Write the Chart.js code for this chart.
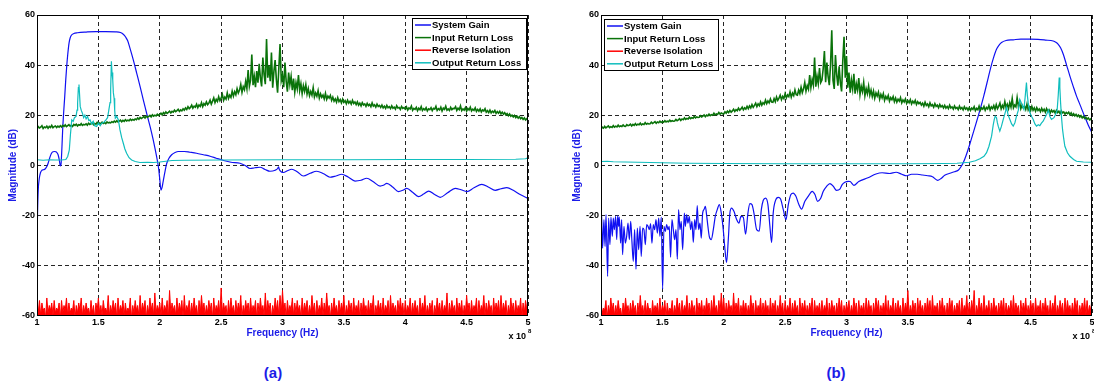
<!DOCTYPE html>
<html>
<head>
<meta charset="utf-8">
<title>Amplifier sweep</title>
<script src="https://cdn.jsdelivr.net/npm/chart.js@4.4.1/dist/chart.umd.min.js"></script>
<style>
  html, body { margin: 0; padding: 0; background: #fff; overflow: hidden; }
  body { width: 1094px; height: 383px; position: relative; }
  canvas { position: absolute; top: 0; }
  #plotA { left: 0; }
  #plotB { left: 564px; }
  .caption { position: absolute; top: 364px; width: 60px; text-align: center; line-height: 18px;
             font: bold 15px "Liberation Sans", Arial, sans-serif; color: #1c1ce8; }
</style>
</head>
<body>
<canvas id="plotA" width="547" height="350"></canvas>
<canvas id="plotB" width="547" height="350"></canvas>
<div class="caption" style="left:243px">(a)</div>
<div class="caption" style="left:806px">(b)</div>
<script>
'use strict';

// Frequency is in units of 1e8 Hz (see the "x 10^8" note under the axis)
const xTickValues = [1, 1.5, 2, 2.5, 3, 3.5, 4, 4.5, 5];
const xTickLabels = ['1', '1.5', '2', '2.5', '3', '3.5', '4', '4.5', '5'];
const yTickValues = [-60, -40, -20, 0, 20, 40, 60];
const yTickLabels = ['-60', '-40', '-20', '0', '20', '40', '60'];
const traceNames = ['System Gain', 'Input Return Loss', 'Reverse Isolation', 'Output Return Loss'];
const traceColors = ['#1010f2', '#0a730a', '#ff0000', '#10bebe'];

// ---- plot (a) -------------------------------------------------------
const gainFreqA = [1.000, 1.004, 1.010, 1.018, 1.028, 1.040, 1.052, 1.066, 1.080, 1.092,
  1.104, 1.116, 1.130, 1.145, 1.160, 1.172, 1.182, 1.190, 1.196, 1.203,
  1.209, 1.217, 1.226, 1.234, 1.242, 1.251, 1.261, 1.270, 1.280, 1.300,
  1.330, 1.400, 1.480, 1.560, 1.640, 1.680, 1.705, 1.722, 1.738, 1.756,
  1.785, 1.812, 1.840, 1.866, 1.894, 1.921, 1.945, 1.962, 1.978, 1.990,
  2.000, 2.010, 2.019, 2.030, 2.043, 2.056, 2.075, 2.097, 2.125, 2.151,
  2.200, 2.246, 2.300, 2.355, 2.410, 2.460, 2.520, 2.580, 2.654, 2.700,
  2.735, 2.775, 2.817, 2.858, 2.898, 2.940, 2.962, 2.968, 2.975, 3.007,
  3.040, 3.075, 3.120, 3.170, 3.225, 3.279, 3.335, 3.387, 3.435, 3.482,
  3.535, 3.591, 3.640, 3.686, 3.740, 3.795, 3.822, 3.850, 3.900, 3.945,
  3.980, 4.013, 4.060, 4.108, 4.150, 4.190, 4.240, 4.285, 4.345, 4.407,
  4.455, 4.502, 4.560, 4.624, 4.680, 4.733, 4.780, 4.828, 4.880, 4.940, 5.000];
const gainA = [-32, -20, -10, -5.5, -3.0, -2.0, -1.8, -1.5, -0.5, 1.0,
  3.0, 4.6, 5.4, 5.5, 5.2, 4.2, 2.0, -0.3, 0.5, 7.0,
  14.1, 21.0, 27.5, 34.0, 39.5, 44.5, 48.8, 50.8, 51.9, 52.6,
  52.9, 53.2, 53.4, 53.4, 53.3, 53.0, 52.2, 51.2, 49.8, 47.0,
  42.0, 36.8, 31.4, 26.1, 20.6, 15.5, 10.5, 6.5, 2.5, -1.0,
  -5.5, -9.9, -8.8, -5.8, -2.4, 0.6, 2.8, 4.2, 5.1, 5.5,
  5.5, 5.2, 4.8, 4.2, 3.6, 2.8, 1.9, 1.2, 0.8, -0.2,
  -1.3, -1.0, -0.8, -1.7, -2.4, -2.0, -1.2, -0.6, -1.8, -2.9,
  -2.2, -1.6, -2.6, -4.3, -3.2, -2.4, -3.4, -4.8, -4.3, -3.6,
  -4.7, -6.3, -6.0, -5.2, -6.6, -8.3, -8.0, -7.2, -8.8, -10.5,
  -10.0, -9.2, -10.8, -12.5, -11.5, -10.3, -11.7, -12.8, -11.0, -9.2,
  -9.8, -10.5, -9.0, -7.6, -8.8, -10.0, -9.4, -8.9, -10.0, -11.8, -13.2];

const outRlFreqA = [1.000, 1.050, 1.100, 1.150, 1.200, 1.235, 1.250, 1.263, 1.272, 1.283,
  1.295, 1.305, 1.318, 1.326, 1.331, 1.337, 1.342, 1.347, 1.352, 1.360,
  1.370, 1.380, 1.390, 1.400, 1.412, 1.422, 1.432, 1.445, 1.458, 1.470,
  1.486, 1.500, 1.515, 1.527, 1.545, 1.560, 1.575, 1.585, 1.595, 1.600,
  1.606, 1.611, 1.617, 1.622, 1.628, 1.633, 1.638, 1.650, 1.663, 1.676,
  1.690, 1.703, 1.716, 1.730, 1.750, 1.771, 1.800, 1.839, 1.900, 1.950,
  2.000, 2.050, 2.100, 2.200, 2.500, 3.000, 3.500, 4.000, 4.500, 4.900, 4.980, 5.000];
const outRlA = [2.2, 2.0, 2.2, 2.1, 2.1, 2.3, 3.5, 6.0, 12.0, 18.1,
  17.5, 19.0, 19.5, 22.0, 25.0, 31.0, 32.2, 28.0, 23.5, 22.0,
  20.8, 19.0, 20.0, 18.5, 19.5, 17.8, 18.1, 16.5, 17.5, 15.8,
  15.5, 16.8, 15.8, 16.8, 17.2, 18.0, 19.0, 22.0, 25.0, 30.0,
  41.5, 37.0, 34.1, 29.0, 26.8, 22.0, 18.8, 19.5, 18.1, 14.1,
  11.0, 8.8, 6.5, 4.8, 3.0, 2.1, 1.5, 1.1, 1.2, 1.1,
  1.3, 1.6, 1.9, 2.0, 2.1, 2.2, 2.2, 2.3, 2.3, 2.4, 2.6, 3.0];

// input return loss, one sample every 0.01 from 1 to 5
const inRlA = [
  14.5, 15.4, 14.9, 15.2, 15.8, 14.7, 15.3, 15.0, 15.6, 14.8, 15.5, 15.1, 15.9, 15.0, 15.4, 15.7, 15.1, 15.6, 15.2, 15.8,
  15.3, 15.9, 15.5, 16.1, 15.4, 15.8, 16.2, 15.6, 16.0, 15.5, 16.3, 15.9, 16.4, 15.7, 16.2, 16.0, 16.6, 15.9, 16.3, 16.1,
  16.5, 16.0, 16.8, 16.3, 16.6, 17.0, 16.2, 16.7, 16.4, 17.1, 16.5, 16.9, 16.6, 17.2, 16.7, 17.0, 16.6, 17.3, 16.9, 17.1,
  16.9, 17.4, 17.1, 17.6, 17.2, 17.8, 17.3, 17.6, 18.0, 17.4, 17.9, 17.5, 18.2, 17.7, 18.0, 17.8, 18.4, 17.9, 18.3, 18.0,
  18.5, 18.2, 18.9, 18.4, 19.1, 18.7, 19.0, 19.4, 18.9, 19.6, 19.2, 19.5, 19.9, 19.3, 20.1, 19.6, 20.0, 19.7, 20.4, 19.9,
  20.3, 20.8, 20.1, 21.0, 20.5, 21.3, 20.7, 21.1, 21.6, 20.9, 21.5, 21.2, 22.0, 21.4, 21.8, 22.3, 21.5, 22.1, 21.7, 22.5,
  22.0, 22.9, 22.3, 23.4, 22.6, 23.1, 24.0, 22.8, 23.6, 23.2, 24.4, 23.0, 24.1, 23.5, 25.0, 23.4, 24.6, 24.0, 25.3, 24.2,
  24.8, 26.0, 24.4, 25.6, 26.9, 25.0, 26.3, 25.5, 27.4, 25.8, 26.8, 28.3, 25.9, 27.2, 26.4, 28.9, 26.7, 28.0, 27.1, 29.6,
  27.6, 29.4, 28.2, 30.6, 28.8, 30.0, 32.3, 29.1, 31.4, 30.2, 33.5, 30.6, 38.0, 31.5, 34.0, 44.2, 32.0, 35.5, 31.2, 37.6,
  33.0, 40.5, 34.8, 31.5, 43.0, 36.2, 32.4, 50.4, 35.0, 39.8, 33.6, 45.0, 31.0, 37.5, 42.0, 34.2, 29.0, 38.6, 48.4, 33.8,
  36.0, 31.2, 41.0, 33.5, 29.4, 37.0, 32.2, 35.5, 30.0, 34.6, 29.2, 33.0, 30.5, 36.0, 29.8, 32.5, 28.6, 31.8, 29.5, 32.2,
  28.4, 30.6, 27.8, 29.5, 28.0, 31.0, 27.3, 28.9, 27.6, 29.8, 26.8, 28.5, 27.1, 28.0, 26.5, 28.7, 26.3, 27.6, 26.8, 27.9,
  25.9, 27.2, 25.6, 26.5, 25.2, 27.0, 25.4, 26.2, 24.9, 26.4, 25.1, 25.8, 24.6, 26.0, 24.8, 25.5, 24.4, 25.9, 24.7, 25.3,
  24.2, 25.3, 24.0, 24.8, 23.7, 25.0, 24.1, 24.5, 23.5, 24.7, 23.8, 24.3, 23.4, 24.9, 23.6, 24.1, 23.2, 24.4, 23.5, 23.9,
  23.1, 24.0, 22.9, 23.6, 22.7, 23.9, 23.0, 23.4, 22.6, 23.7, 22.8, 23.2, 22.4, 23.8, 22.9, 23.1, 22.3, 23.5, 22.7, 23.0,
  22.4, 23.3, 22.0, 22.9, 22.5, 23.6, 21.9, 22.7, 22.3, 23.1, 21.8, 22.8, 22.2, 23.4, 21.9, 22.6, 22.1, 23.0, 21.7, 22.5,
  22.2, 23.0, 21.8, 22.7, 22.4, 23.5, 21.9, 22.6, 22.1, 23.2, 21.7, 22.8, 22.3, 23.6, 22.0, 22.5, 21.9, 23.1, 22.2, 22.7,
  22.6, 23.4, 21.9, 22.8, 22.2, 23.7, 21.8, 22.5, 22.0, 23.0, 21.6, 22.7, 22.1, 23.2, 21.7, 22.4, 21.9, 22.9, 21.5, 22.3,
  21.6, 22.5, 21.3, 22.1, 21.7, 22.6, 21.2, 21.8, 21.0, 22.0, 20.9, 21.6, 21.1, 21.9, 20.7, 21.4, 20.8, 21.5, 20.5, 21.2,
  20.4, 21.0, 20.1, 20.6, 19.8, 20.5, 19.6, 20.0, 19.3, 19.9, 19.0, 19.6, 18.8, 19.4, 18.6, 19.1, 18.3, 18.9, 18.1, 18.6,
  17.9];

// reverse isolation, one sample every 0.01 from 1 to 5
const isoA = [
  -56, -59, -54, -60, -55, -58, -57, -61, -53, -59, -56, -58, -55, -60, -54, -59, -57, -58, -55, -61,
  -54, -59, -56, -58, -53, -60, -55, -59, -57, -58, -54, -61, -56, -59, -55, -58, -53, -60, -56, -59,
  -55, -58, -57, -60, -54, -59, -56, -61, -55, -58, -53, -59, -56, -60, -54, -58, -57, -59, -52, -60,
  -56, -59, -54, -58, -55, -61, -53, -59, -56, -58, -54, -60, -55, -59, -57, -58, -53, -61, -56, -59,
  -54, -58, -56, -60, -52, -59, -55, -58, -54, -61, -56, -59, -53, -58, -55, -60, -51, -59, -56, -58,
  -55, -60, -53, -59, -56, -58, -54, -61, -50, -59, -55, -58, -56, -60, -53, -59, -55, -58, -54, -61,
  -52, -59, -56, -58, -54, -60, -55, -59, -53, -58, -56, -61, -54, -59, -52, -58, -55, -60, -56, -59,
  -54, -58, -55, -61, -53, -59, -56, -58, -54, -60, -49, -59, -55, -58, -56, -61, -54, -59, -53, -58,
  -56, -60, -54, -59, -55, -58, -52, -61, -56, -59, -54, -58, -55, -60, -53, -59, -56, -58, -54, -61,
  -55, -59, -53, -58, -56, -60, -51, -59, -54, -58, -55, -61, -56, -59, -53, -58, -54, -60, -52, -59,
  -50, -58, -55, -61, -54, -59, -56, -58, -53, -60, -55, -59, -54, -58, -56, -61, -53, -59, -55, -58,
  -54, -60, -56, -59, -52, -58, -55, -61, -54, -59, -56, -58, -53, -60, -55, -59, -51, -58, -56, -61,
  -55, -59, -53, -58, -56, -60, -54, -59, -55, -58, -52, -61, -56, -59, -54, -58, -55, -60, -53, -59,
  -56, -58, -54, -61, -55, -59, -53, -58, -56, -60, -54, -59, -55, -58, -52, -61, -56, -59, -54, -58,
  -55, -60, -53, -59, -56, -58, -54, -61, -52, -59, -55, -58, -56, -60, -54, -59, -53, -58, -55, -61,
  -54, -59, -56, -58, -53, -60, -55, -59, -54, -58, -56, -61, -53, -59, -55, -58, -52, -60, -56, -59,
  -55, -58, -54, -61, -56, -59, -53, -58, -55, -60, -54, -59, -56, -58, -51, -61, -55, -59, -54, -58,
  -56, -60, -53, -59, -55, -58, -54, -61, -56, -59, -52, -58, -55, -60, -54, -59, -56, -58, -53, -61,
  -54, -59, -56, -58, -52, -60, -55, -59, -54, -58, -56, -61, -53, -59, -55, -58, -54, -60, -52, -59,
  -55, -58, -54, -61, -56, -59, -53, -58, -55, -60, -54, -59, -56, -58, -53, -61, -55, -59, -54, -58,
  -52];

// ---- plot (b) -------------------------------------------------------
const gainFreqB = [1.005, 1.013, 1.024, 1.033, 1.041, 1.054, 1.062, 1.073, 1.081, 1.092,
  1.100, 1.109, 1.119, 1.128, 1.136, 1.144, 1.149, 1.160, 1.168, 1.176,
  1.187, 1.198, 1.209, 1.220, 1.231, 1.242, 1.252, 1.263, 1.274, 1.285,
  1.296, 1.307, 1.318, 1.328, 1.339, 1.350, 1.361, 1.372, 1.383, 1.394,
  1.404, 1.415, 1.426, 1.437, 1.448, 1.459, 1.470, 1.480, 1.491, 1.502,
  1.513, 1.524, 1.535, 1.546, 1.556, 1.567, 1.578, 1.589, 1.600, 1.611,
  1.622, 1.632, 1.643, 1.654, 1.665, 1.679, 1.687, 1.698, 1.708, 1.719,
  1.730, 1.741, 1.752, 1.763, 1.774, 1.784, 1.795, 1.806, 1.817, 1.828,
  1.839, 1.850, 1.860, 1.871, 1.882, 1.898, 1.915, 1.931, 1.947, 1.964,
  1.980, 1.996, 2.010, 2.023, 2.037, 2.050, 2.064, 2.083, 2.105, 2.124,
  2.140, 2.159, 2.178, 2.197, 2.213, 2.230, 2.246, 2.268, 2.289, 2.306,
  2.322, 2.341, 2.360, 2.376, 2.390, 2.403, 2.422, 2.444, 2.463, 2.485,
  2.507, 2.526, 2.547, 2.566, 2.588, 2.612, 2.634, 2.661, 2.688, 2.721,
  2.743, 2.764, 2.789, 2.811, 2.838, 2.865, 2.892, 2.919, 2.946, 2.965,
  2.987, 3.014, 3.030, 3.060, 3.100, 3.175, 3.240, 3.290, 3.350, 3.404,
  3.450, 3.490, 3.530, 3.576, 3.620, 3.662, 3.700, 3.742, 3.770, 3.800,
  3.842, 3.880, 3.910, 3.930, 3.951, 3.975, 4.005, 4.045, 4.087, 4.120,
  4.155, 4.175, 4.195, 4.222, 4.243, 4.263, 4.300, 4.358, 4.420, 4.494,
  4.560, 4.620, 4.684, 4.705, 4.725, 4.745, 4.766, 4.793, 4.820, 4.847,
  4.874, 4.901, 4.940, 4.970, 5.000];
const gainB = [-20.4, -33.1, -21.7, -32.4, -19.7, -44.4, -21.1, -31.7, -20.7, -28.4,
  -21.1, -25.7, -20.4, -29.7, -20.1, -24.4, -20.7, -31.1, -21.7, -35.7,
  -24.4, -31.1, -28.4, -23.1, -29.7, -22.4, -30.4, -38.4, -25.7, -41.5,
  -25.1, -33.7, -24.4, -36.4, -25.1, -25.7, -31.7, -23.7, -24.4, -25.7,
  -23.3, -31.1, -23.7, -25.7, -21.7, -27.1, -21.1, -28.4, -20.7, -49.5,
  -24.4, -26.4, -23.7, -25.7, -24.4, -36.7, -21.7, -25.7, -29.7, -25.7,
  -37.5, -17.7, -25.7, -22.4, -33.7, -19.1, -24.4, -19.7, -23.1, -20.4,
  -25.7, -22.4, -30.8, -21.7, -25.7, -16.1, -25.7, -23.1, -29.1, -19.1,
  -17.7, -16.4, -19.7, -24.4, -28.4, -29.7, -25.7, -20.4, -17.7, -15.7,
  -19.1, -25.7, -33.7, -38.8, -29.7, -19.1, -17.1, -18.4, -21.7, -23.1,
  -20.4, -20.7, -27.5, -19.1, -15.3, -15.7, -19.1, -25.7, -26.3, -17.7,
  -14.0, -13.1, -15.7, -24.4, -30.8, -19.1, -14.0, -12.8, -13.5, -17.7,
  -21.7, -15.7, -11.7, -11.1, -12.4, -15.7, -17.5, -14.4, -12.4, -10.4,
  -11.7, -14.4, -13.3, -10.4, -8.4, -7.3, -8.4, -10.0, -9.5, -7.7,
  -6.8, -6.4, -6.5, -8.0, -6.5, -5.0, -3.5, -3.0, -3.3, -2.8,
  -3.6, -4.2, -3.6, -3.6, -3.9, -4.2, -4.6, -6.0, -5.3, -4.0,
  -3.2, -2.6, -2.0, -0.8, 1.0, 4.0, 8.5, 15.0, 22.0, 28.0,
  35.0, 39.0, 42.5, 46.3, 48.0, 49.0, 49.8, 50.1, 50.4, 50.4,
  50.3, 50.0, 49.6, 49.1, 48.3, 46.8, 44.3, 40.0, 35.6, 31.5,
  27.6, 24.3, 19.5, 16.0, 13.0];

const outRlFreqB = [1.000, 1.050, 1.100, 1.200, 1.300, 1.400, 1.500, 1.700, 2.000, 2.500,
  3.000, 3.500, 3.800, 3.900, 4.000, 4.050, 4.087, 4.120, 4.141, 4.160,
  4.182, 4.195, 4.204, 4.212, 4.222, 4.229, 4.236, 4.249, 4.262, 4.277,
  4.290, 4.304, 4.317, 4.331, 4.345, 4.358, 4.372, 4.385, 4.400, 4.412,
  4.428, 4.445, 4.455, 4.466, 4.473, 4.480, 4.494, 4.508, 4.521, 4.535,
  4.548, 4.562, 4.575, 4.588, 4.602, 4.616, 4.630, 4.645, 4.657, 4.670,
  4.690, 4.705, 4.716, 4.725, 4.733, 4.738, 4.744, 4.752, 4.760, 4.770,
  4.779, 4.800, 4.820, 4.850, 4.874, 4.930, 5.000];
const outRlB = [1.5, 1.6, 1.4, 1.3, 1.2, 1.1, 1.0, 0.8, 0.7, 0.6,
  0.6, 0.6, 0.7, 0.8, 1.2, 1.8, 2.6, 3.6, 5.0, 7.5,
  11.6, 16.0, 18.3, 19.6, 19.0, 17.0, 15.6, 13.6, 15.5, 18.3,
  20.5, 23.0, 20.0, 18.3, 16.5, 15.6, 17.0, 19.6, 22.0, 26.3,
  24.5, 22.3, 27.0, 33.0, 28.0, 25.0, 21.0, 19.5, 18.3, 16.5,
  15.6, 16.2, 15.8, 16.8, 17.6, 19.0, 20.3, 22.0, 19.5, 18.3,
  19.0, 20.5, 22.0, 28.0, 35.0, 31.0, 25.0, 19.0, 14.3, 10.5,
  7.6, 5.0, 3.6, 2.3, 1.6, 1.3, 1.2];

const inRlB = [
  14.4, 15.2, 14.8, 15.5, 14.9, 15.3, 15.7, 15.0, 15.4, 15.1, 15.8, 15.2, 15.6, 15.3, 16.0, 15.4, 15.7, 15.5, 16.1, 15.6,
  15.5, 16.2, 15.8, 16.0, 16.4, 15.7, 16.3, 15.9, 16.6, 16.0, 16.4, 16.2, 16.8, 16.1, 16.5, 16.3, 17.0, 16.4, 16.7, 16.5,
  16.6, 17.2, 16.7, 17.0, 17.4, 16.8, 17.3, 17.0, 17.6, 17.1, 17.4, 17.2, 17.8, 17.3, 17.6, 17.4, 18.0, 17.5, 17.8, 17.6,
  17.7, 18.3, 17.8, 18.1, 18.6, 17.9, 18.5, 18.2, 18.9, 18.3, 18.7, 18.5, 19.2, 18.6, 19.0, 18.8, 19.5, 18.9, 19.3, 19.1,
  19.2, 19.8, 19.3, 19.6, 20.1, 19.4, 20.0, 19.7, 20.4, 19.8, 20.2, 20.0, 20.8, 20.1, 20.5, 20.3, 21.1, 20.4, 20.9, 20.6,
  20.5, 21.3, 20.8, 21.6, 21.0, 21.9, 21.2, 21.7, 22.4, 21.5, 22.2, 21.8, 22.8, 22.0, 22.5, 23.2, 22.1, 22.9, 22.4, 23.5,
  22.6, 23.7, 22.9, 24.2, 23.1, 23.9, 24.8, 23.4, 24.5, 23.8, 25.3, 24.0, 25.0, 24.4, 26.0, 24.6, 25.7, 24.9, 26.5, 25.2,
  25.1, 26.6, 25.4, 27.3, 25.9, 26.8, 28.0, 26.2, 27.5, 26.6, 28.6, 26.9, 28.1, 27.4, 29.3, 27.2, 28.8, 27.8, 30.1, 28.2,
  28.0, 30.0, 28.6, 31.2, 29.0, 30.5, 33.0, 29.6, 31.8, 30.4, 36.0, 31.0, 34.2, 32.0, 43.0, 31.4, 35.6, 32.6, 38.8, 33.0,
  34.0, 38.5, 45.6, 33.2, 41.0, 35.5, 32.0, 40.2, 53.9, 34.0, 30.5, 44.0, 36.2, 31.8, 39.5, 33.0, 29.5, 42.0, 51.3, 35.0,
  43.6, 31.0, 37.0, 29.0, 34.0, 30.5, 36.5, 28.6, 32.5, 30.0, 34.8, 28.2, 31.5, 29.4, 33.0, 27.8, 30.6, 28.6, 31.6, 28.0,
  30.0, 27.4, 29.6, 26.8, 28.9, 27.6, 29.2, 26.4, 28.3, 26.9, 28.6, 25.9, 27.5, 26.5, 27.9, 25.6, 27.0, 26.2, 27.4, 25.4,
  26.8, 25.2, 26.4, 25.6, 27.0, 24.9, 26.1, 25.3, 26.5, 24.7, 25.8, 25.0, 26.2, 24.5, 25.6, 24.8, 25.9, 24.3, 25.4, 24.6,
  25.1, 24.0, 24.8, 23.6, 25.2, 23.9, 24.5, 23.4, 24.9, 23.7, 24.2, 23.2, 24.6, 23.5, 24.0, 23.0, 24.3, 23.3, 23.8, 22.9,
  23.9, 22.8, 23.5, 22.6, 24.0, 22.9, 23.3, 22.4, 23.7, 22.7, 23.1, 22.2, 23.6, 22.5, 23.0, 22.1, 23.4, 22.4, 22.9, 22.0,
  23.0, 21.9, 22.8, 22.3, 23.4, 21.8, 22.7, 22.2, 23.6, 21.9, 22.9, 22.4, 23.5, 22.0, 23.1, 22.5, 23.9, 22.1, 23.3, 22.6,
  23.8, 22.3, 24.2, 22.6, 23.5, 24.8, 22.5, 23.9, 22.8, 25.4, 23.0, 24.3, 22.6, 25.0, 23.2, 26.6, 22.9, 24.0, 23.3, 27.0,
  23.5, 25.2, 22.6, 24.0, 22.9, 23.6, 22.3, 24.4, 22.1, 23.2, 21.8, 23.5, 22.0, 22.9, 21.6, 23.0, 21.9, 22.5, 21.4, 22.7,
  21.6, 22.4, 21.2, 22.6, 21.5, 22.1, 20.9, 22.0, 21.3, 21.8, 20.8, 21.9, 21.0, 21.6, 20.6, 21.7, 20.9, 21.3, 20.4, 21.1,
  20.6, 21.2, 20.2, 20.9, 19.9, 20.6, 19.7, 20.3, 19.5, 20.0, 19.2, 19.8, 18.9, 19.5, 18.7, 19.2, 18.4, 18.9, 18.1, 18.5,
  17.8];

const isoB = [
  -55, -59, -57, -58, -54, -61, -56, -59, -53, -58, -55, -60, -56, -59, -54, -58, -57, -61, -55, -59,
  -53, -58, -56, -60, -55, -59, -54, -58, -56, -61, -55, -59, -52, -58, -56, -60, -54, -59, -55, -58,
  -57, -61, -54, -59, -56, -58, -55, -60, -53, -59, -56, -58, -54, -61, -55, -59, -57, -58, -54, -60,
  -56, -59, -53, -58, -55, -61, -54, -59, -56, -58, -52, -60, -55, -59, -54, -58, -56, -61, -53, -59,
  -55, -58, -54, -60, -56, -59, -53, -58, -55, -61, -54, -59, -52, -58, -56, -60, -54, -59, -51, -58,
  -53, -61, -55, -59, -54, -58, -56, -60, -51, -59, -55, -58, -53, -61, -56, -59, -54, -58, -55, -60,
  -56, -59, -52, -58, -55, -61, -54, -59, -56, -58, -53, -60, -55, -59, -54, -58, -56, -61, -53, -59,
  -55, -58, -54, -60, -56, -59, -52, -58, -55, -61, -54, -59, -56, -58, -53, -60, -55, -59, -54, -58,
  -56, -61, -53, -59, -55, -58, -54, -60, -56, -59, -55, -58, -53, -61, -54, -59, -56, -58, -55, -60,
  -54, -59, -56, -58, -53, -61, -55, -59, -54, -58, -56, -60, -55, -59, -53, -58, -54, -61, -56, -59,
  -55, -58, -54, -60, -56, -59, -53, -58, -55, -61, -54, -59, -56, -58, -55, -60, -53, -59, -54, -58,
  -56, -61, -55, -59, -53, -58, -54, -60, -56, -59, -55, -58, -52, -61, -54, -59, -56, -58, -53, -60,
  -55, -59, -54, -58, -56, -61, -53, -59, -55, -58, -50, -60, -56, -59, -54, -58, -55, -61, -53, -59,
  -54, -58, -56, -60, -55, -59, -53, -58, -54, -61, -52, -59, -56, -58, -55, -60, -54, -59, -53, -58,
  -56, -61, -55, -59, -53, -58, -54, -60, -56, -59, -55, -58, -54, -61, -53, -59, -56, -58, -52, -60,
  -55, -59, -54, -58, -50, -61, -56, -59, -53, -58, -55, -60, -52, -59, -56, -58, -54, -61, -55, -59,
  -53, -58, -56, -60, -55, -59, -54, -58, -53, -61, -55, -59, -56, -58, -54, -60, -52, -59, -55, -58,
  -56, -61, -54, -59, -55, -58, -53, -60, -56, -59, -54, -58, -55, -61, -53, -59, -56, -58, -54, -60,
  -55, -59, -53, -58, -56, -61, -54, -59, -55, -58, -52, -60, -56, -59, -54, -58, -55, -61, -53, -59,
  -54, -58, -56, -60, -55, -59, -53, -58, -54, -61, -56, -59, -55, -58, -53, -60, -54, -59, -56, -58,
  -53];

// ---------------------------------------------------------------------
const fontFamily = '"Liberation Sans", Arial, Helvetica, sans-serif';
const titleColor = '#1c1ce8';
Chart.defaults.font.family = fontFamily;

// evenly spaced sweep points across the axis range
function sweep(count) {
  const lo = xTickValues[0], hi = xTickValues[xTickValues.length - 1];
  const step = (hi - lo) / (count - 1);
  return Array.from({ length: count }, (_, i) => lo + i * step);
}

function pairs(xs, ys) {
  return ys.map((y, i) => ({ x: xs[i], y: y }));
}

// box frame, boxed legend and the exponent note under the x axis
const plotDecor = {
  id: 'plotDecor',
  afterDatasetsDraw(chart, args, opts) {
    const { ctx, chartArea: a } = chart;
    ctx.save();
    ctx.strokeStyle = '#000';
    ctx.lineWidth = 1;
    const x0 = Math.floor(a.left) + 0.5, x1 = Math.floor(a.right) - 0.5;
    const y0 = Math.floor(a.top) + 0.5, y1 = Math.floor(a.bottom) + 0.5;
    ctx.strokeRect(x0, y0, x1 - x0, y1 - y0);

    // legend box
    const bw = 114, bh = 51;
    const bx = opts.side === 'left' ? Math.floor(a.left) + 3 : Math.floor(a.right) - 116;
    const by = Math.floor(a.top) + (opts.side === 'left' ? 4 : 3);
    ctx.fillStyle = '#fff';
    ctx.fillRect(bx, by, bw, bh);
    ctx.strokeRect(bx + 0.5, by + 0.5, bw, bh);
    ctx.font = 'bold 9.5px ' + fontFamily;
    ctx.textBaseline = 'middle';
    ctx.textAlign = 'left';
    chart.data.datasets.forEach((ds, i) => {
      const y = by + 7 + i * 12.6;
      ctx.strokeStyle = ds.borderColor;
      ctx.lineWidth = 1.5;
      ctx.beginPath();
      ctx.moveTo(bx + 3, y);
      ctx.lineTo(bx + 19, y);
      ctx.stroke();
      ctx.fillStyle = '#000';
      ctx.fillText(ds.label, bx + 20, y + 0.5);
    });

    // x 10^8
    ctx.fillStyle = '#000';
    ctx.textAlign = 'right';
    ctx.font = 'bold 9px ' + fontFamily;
    ctx.fillText('x 10', a.right - 2, 337);
    ctx.textAlign = 'left';
    ctx.font = 'bold 6px ' + fontFamily;
    ctx.fillText('8', a.right, 331);
    ctx.restore();
  }
};

function makePlot(id, gainFreq, gain, inRl, iso, outRlFreq, outRl, legendSide) {
  const line = { pointRadius: 0, borderWidth: 1.2, tension: 0, fill: false };
  const tickFont = { size: 9, weight: 'bold' };
  const titleFont = { size: 10, weight: 'bold' };
  const grid = { color: 'rgba(0,0,0,0.85)', lineWidth: 1, drawTicks: false };
  const border = { display: false, dash: [4, 3] };

  return new Chart(document.getElementById(id), {
    type: 'line',
    data: {
      datasets: [
        Object.assign({}, line, { label: traceNames[0], data: pairs(gainFreq, gain), borderColor: traceColors[0],
          cubicInterpolationMode: 'monotone', order: 4 }),
        Object.assign({}, line, { label: traceNames[1], data: pairs(sweep(inRl.length), inRl), borderColor: traceColors[1],
          borderWidth: 1.6, order: 3 }),
        Object.assign({}, line, { label: traceNames[2], data: pairs(sweep(iso.length), iso), borderColor: traceColors[2],
          backgroundColor: traceColors[2], fill: 'start', borderWidth: 1, order: 2 }),
        Object.assign({}, line, { label: traceNames[3], data: pairs(outRlFreq, outRl), borderColor: traceColors[3], order: 1 })
      ]
    },
    options: {
      responsive: false,
      animation: false,
      events: [],
      layout: { padding: { left: 0, top: 15, right: 19, bottom: 0 } },
      plugins: {
        legend: { display: false },
        tooltip: { enabled: false },
        plotDecor: { side: legendSide }
      },
      scales: {
        x: {
          type: 'linear',
          min: xTickValues[0],
          max: xTickValues[xTickValues.length - 1],
          afterBuildTicks: axis => { axis.ticks = xTickValues.map(v => ({ value: v })); },
          afterFit: axis => { axis.height = 34.5; },
          ticks: { color: '#000', font: tickFont, padding: 2, maxRotation: 0, autoSkip: false,
                   callback: (v, i) => xTickLabels[i] },
          grid: grid,
          border: border,
          title: { display: true, text: 'Frequency (Hz)', color: titleColor, font: titleFont,
                   padding: { top: 0, bottom: 11 } }
        },
        y: {
          type: 'linear',
          min: yTickValues[0],
          max: yTickValues[yTickValues.length - 1],
          afterBuildTicks: axis => { axis.ticks = yTickValues.map(v => ({ value: v })); },
          afterFit: axis => { axis.width = 37; },
          ticks: { color: '#000', font: tickFont, padding: 2, callback: (v, i) => yTickLabels[i] },
          grid: grid,
          border: border,
          title: { display: true, text: 'Magnitude (dB)', color: titleColor, font: titleFont,
                   padding: { top: 7, bottom: 0 } }
        }
      }
    },
    plugins: [plotDecor]
  });
}

makePlot('plotA', gainFreqA, gainA, inRlA, isoA, outRlFreqA, outRlA, 'right');
makePlot('plotB', gainFreqB, gainB, inRlB, isoB, outRlFreqB, outRlB, 'left');
</script>
</body>
</html>
